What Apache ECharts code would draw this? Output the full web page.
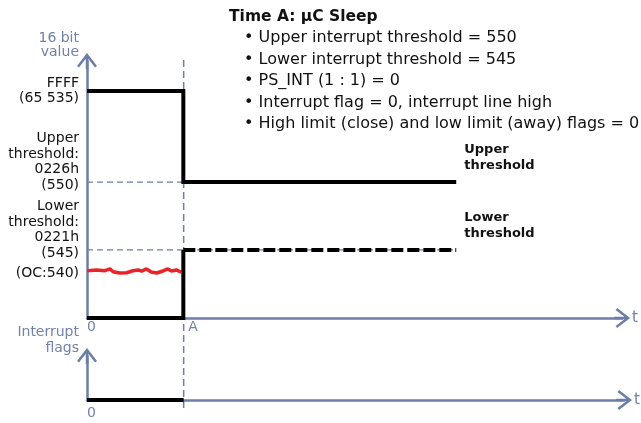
<!DOCTYPE html>
<html>
<head>
<meta charset="utf-8">
<script src="https://cdn.jsdelivr.net/npm/echarts@6/dist/echarts.min.js"></script>
<style>html,body{margin:0;padding:0;background:#fff}#c{width:641px;height:423px}</style>
</head>
<body>
<div id="c"></div>
<script>
// ---- data (schematic levels; value axis 0..100 units) ----
const tA = 18;            // time A
const tEnd = 69;          // end of drawn threshold lines
const levelZero = 0;      // 0
const levelFFFF = 88.3;   // FFFF (65 535)
const levelUpper = 52.9;  // 0226h (550)
const levelLower = 26.5;  // 0221h (545)

const yLevelValues = [levelZero, levelLower, levelUpper, levelFFFF];
const yLevelLabels = [
  '',
  '{l|Lower}\n{l|threshold:}\n{l|0221h}\n{l|(545)}\n{o|(OC:540)}\n{s| }',
  '{l|Upper}\n{l|threshold:}\n{l|0226h}\n{l|(550)}\n{u| }',
  '{l|FFFF}\n{l|(65 535)}'
];
const timeTicks = [0, tA];
const timeTickLabels = ['0', 'A'];

// value register: FFFF until A, then upper threshold
const upperT = [0, tA, tA, tEnd];
const upperV = [levelFFFF, levelFFFF, levelUpper, levelUpper];
// lower register: 0 until A, then lower threshold
const lowerT = [0, tA, tA];
const lowerV = [0, 0, levelLower];
const lowerDashT = [tA, tEnd];
const lowerDashV = [levelLower, levelLower];
// proximity reading (noisy, OC ~540)
const sensorT = [0.06, 1.8, 3.35, 4.3, 4.9, 6.1, 7.4, 8.6, 9.55, 10.2, 11.1, 12.0, 13.0, 14.2, 15.1, 15.8, 16.7, 17.6];
const sensorV = [18.4, 18.7, 18.4, 19.1, 18.0, 17.5, 17.6, 18.4, 18.7, 18.2, 19.1, 17.9, 17.5, 18.3, 19.1, 18.3, 18.7, 17.8];
// interrupt flags
const flagT = [0, tA];
const flagV = [0, 0];

const bullets = [
  '• Upper interrupt threshold = 550',
  '• Lower interrupt threshold = 545',
  '• PS_INT (1 : 1) = 0',
  '• Interrupt flag = 0, interrupt line high',
  '• High limit (close) and low limit (away) flags = 0'
];

const zip = (a, b) => a.map((v, i) => [v, b[i]]);

const AX = '#6d7ea6';
const TXT = '#7182ab';
const FONT = 'DejaVu Sans';
const ARROW = 'path://M10,0 L20,13 L18.02,14.53 L11.25,5.7 L11.25,16 L8.75,16 L8.75,5.7 L1.98,14.53 L0,13 Z';

const axisLineStyle = {
  show: true, onZero: false,
  lineStyle: { color: AX, width: 2.5 },
  symbol: ['none', ARROW], symbolSize: [20, 16]
};

const chart = echarts.init(document.getElementById('c'), null, { renderer: 'canvas' });
const option = {
  animation: false,
  textStyle: { fontFamily: FONT },
  title: [
    { text: 'Time A: µC Sleep', left: 229, top: 9, padding: 0,
      textStyle: { fontFamily: FONT, fontSize: 15.5, fontWeight: 'bold', color: '#111' } },
    { text: bullets.join('\n'), left: 244, top: 27, padding: 0,
      textStyle: { fontFamily: FONT, fontSize: 16, fontWeight: 'normal', color: '#111', lineHeight: 21.6 } }
  ],
  grid: [
    { left: 87, right: 17, top: 61, bottom: 105 },
    { left: 87, right: 17, top: 356, bottom: 23 },
    { left: 87, right: 17, top: 59, bottom: 15 }
  ],
  xAxis: [
    { gridIndex: 0, type: 'value', min: 0, max: 100,
      axisLine: axisLineStyle, axisTick: { show: false }, splitLine: { show: false },
      axisLabel: { customValues: timeTicks, margin: 2, align: 'left', showMinLabel: true, showMaxLabel: true,
        formatter: v => v === 0 ? '{z|' + timeTickLabels[0] + '}' : '{a|' + timeTickLabels[timeTicks.indexOf(v)] + '}',
        rich: { z: { fontFamily: FONT, fontSize: 14, color: TXT },
                a: { fontFamily: FONT, fontSize: 14, color: TXT, padding: [0, 0, 0, 5] } } },
      name: 't', nameLocation: 'end', nameGap: 10, nameMoveOverlap: false,
      nameTextStyle: { color: TXT, fontSize: 15, fontFamily: FONT } },
    { gridIndex: 1, type: 'value', min: 0, max: 100,
      axisLine: axisLineStyle, axisTick: { show: false }, splitLine: { show: false },
      axisLabel: { customValues: [0], margin: 6, align: 'left', color: TXT, fontSize: 14, fontFamily: FONT,
        showMinLabel: true, formatter: () => '0' },
      name: 't', nameLocation: 'end', nameGap: 10, nameMoveOverlap: false,
      nameTextStyle: { color: TXT, fontSize: 15, fontFamily: FONT } },
    { gridIndex: 2, type: 'value', min: 0, max: 100, show: false }
  ],
  yAxis: [
    { gridIndex: 0, type: 'value', min: 0, max: 100,
      axisLine: axisLineStyle, axisTick: { show: false }, splitLine: { show: false },
      axisLabel: { customValues: yLevelValues, margin: 8, color: '#111', fontSize: 14,
        fontFamily: FONT, hideOverlap: false, showMinLabel: true, showMaxLabel: true,
        formatter: v => yLevelLabels[yLevelValues.indexOf(v)],
        rich: {
          l: { fontFamily: FONT, fontSize: 14, color: '#111', lineHeight: 15.5, align: 'right' },
          o: { fontFamily: FONT, fontSize: 14, color: '#111', lineHeight: 24.5, align: 'right' },
          u: { fontSize: 14, lineHeight: 40.5 },
          s: { fontSize: 14, lineHeight: 16 }
        } },
      name: '16 bit\nvalue', nameLocation: 'end', nameGap: 1, nameMoveOverlap: false,
      nameTextStyle: { color: TXT, fontSize: 14, lineHeight: 14.5, align: 'right', verticalAlign: 'bottom',
        padding: [0, 8, 0, 0], fontFamily: FONT } },
    { gridIndex: 1, type: 'value', min: 0, max: 1,
      axisLine: axisLineStyle, axisTick: { show: false }, splitLine: { show: false },
      axisLabel: { show: false },
      name: 'Interrupt\nflags', nameLocation: 'end', nameGap: 0, nameMoveOverlap: false,
      nameTextStyle: { color: TXT, fontSize: 14, lineHeight: 16, align: 'right', verticalAlign: 'bottom',
        padding: [0, 8, 0, 0], fontFamily: FONT } },
    { gridIndex: 2, type: 'value', min: 0, max: 1, show: false }
  ],
  series: [
    // guide: vertical dashed at time A
    { type: 'line', xAxisIndex: 2, yAxisIndex: 2, data: [[tA, 0], [tA, 1]], symbol: 'none', silent: true, clip: false,
      lineStyle: { color: AX, width: 1.5, type: [7, 4] }, z: 1 },
    // guides: horizontal dashed at thresholds
    { type: 'line', xAxisIndex: 0, yAxisIndex: 0, data: [[0, levelUpper], [tA, levelUpper]], symbol: 'none', silent: true,
      lineStyle: { color: AX, width: 1.2, type: [6, 4] }, z: 1 },
    { type: 'line', xAxisIndex: 0, yAxisIndex: 0, data: [[0, levelLower], [tEnd, levelLower]], symbol: 'none', silent: true,
      lineStyle: { color: AX, width: 1.2, type: [6, 4] }, z: 1 },
    // sensor reading
    { type: 'line', xAxisIndex: 0, yAxisIndex: 0, data: zip(sensorT, sensorV), symbol: 'none', clip: false,
      lineStyle: { color: '#ec2227', width: 3.5 }, z: 3 },
    // upper register
    { type: 'line', xAxisIndex: 0, yAxisIndex: 0, data: zip(upperT, upperV), symbol: 'none', clip: false,
      lineStyle: { color: '#000', width: 4, cap: 'butt', join: 'miter' }, z: 4,
      endLabel: { show: true, formatter: 'Upper\nthreshold', color: '#111', fontWeight: 'bold', fontSize: 13,
        lineHeight: 16, fontFamily: FONT, offset: [0, -24], distance: 8 } },
    // lower register
    { type: 'line', xAxisIndex: 0, yAxisIndex: 0, data: zip(lowerT, lowerV), symbol: 'none', clip: false,
      lineStyle: { color: '#000', width: 4, cap: 'butt', join: 'miter' }, z: 4 },
    { type: 'line', xAxisIndex: 0, yAxisIndex: 0, data: zip(lowerDashT, lowerDashV), symbol: 'none', clip: false,
      lineStyle: { color: '#000', width: 4, type: [12, 4], cap: 'butt' }, z: 4,
      endLabel: { show: true, formatter: 'Lower\nthreshold', color: '#111', fontWeight: 'bold', fontSize: 13,
        lineHeight: 16, fontFamily: FONT, offset: [0, -24], distance: 8 } },
    // interrupt flags
    { type: 'line', xAxisIndex: 1, yAxisIndex: 1, data: zip(flagT, flagV), symbol: 'none', clip: false,
      lineStyle: { color: '#000', width: 4, cap: 'butt' }, z: 4 }
  ]
};
chart.setOption(option);
</script>
</body>
</html>
